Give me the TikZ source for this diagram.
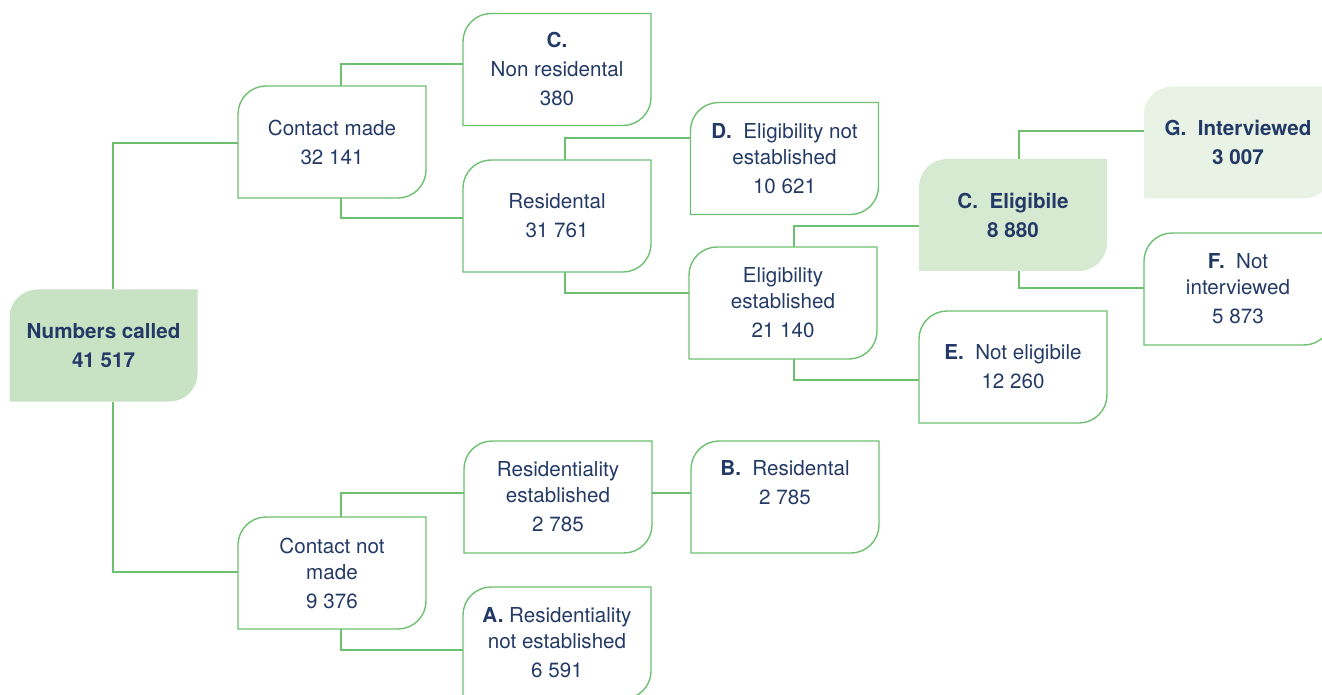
\documentclass[tikz,border=0pt]{standalone}
\usepackage{fontspec}
\setmainfont{TeX Gyre Heros}
\usetikzlibrary{backgrounds}
\definecolor{navy}{RGB}{36,58,102}
\definecolor{leafgreen}{RGB}{108,192,112}
\definecolor{fillA}{RGB}{200,226,196}
\definecolor{fillB}{RGB}{214,233,209}
\definecolor{fillC}{RGB}{232,243,230}
% box with rounded top-left and bottom-right corners, drawn round a node
\newcommand{\leafbox}[2]{\path[#2] (#1.south west) -- ([yshift=-14pt]#1.north west)
  .. controls +(0pt,7.7pt) and +(-7.7pt,0pt) .. ([xshift=14pt]#1.north west) -- (#1.north east)
  -- ([yshift=14pt]#1.south east) .. controls +(0pt,-7.7pt) and +(7.7pt,0pt) .. ([xshift=-14pt]#1.south east) -- cycle;}
\begin{document}
\begin{tikzpicture}[x=0.5pt,y=-0.5pt,
  every node/.style={font=\fontsize{10.3}{13}\selectfont, text=navy, align=center},
  leaf/.style={minimum width=94pt, minimum height=56pt, inner sep=0pt, outer sep=0pt},
  outline/.style={draw=leafgreen, line width=0.7pt},
  conn/.style={draw=leafgreen, line width=0.8pt}]
\useasboundingbox (0,0) rectangle (1322,695);
\clip (0,0) rectangle (1322,695);
\node[leaf] (nc) at (103.5,345.5) {\textbf{Numbers called}\\[1.5pt]\textbf{41 517}};
\node[leaf] (cm) at (332,142) {Contact made\\[1.5pt]32 141};
\node[leaf] (nr) at (557,69.5) {\textbf{C.}\\[1.5pt]Non residental\\[1.5pt]380};
\node[leaf] (res) at (557,216) {Residental\\[1.5pt]31 761};
\node[leaf] (dne) at (784.5,158.5) {\textbf{D.}~~Eligibility not\\established\\[1.5pt]10 621};
\node[leaf] (ee) at (783,303) {Eligibility\\established\\[1.5pt]21 140};
\node[leaf] (eli) at (1013,215) {\textbf{C.~~Eligibile}\\[1.5pt]\textbf{8 880}};
\node[leaf] (gi) at (1238,142.5) {\textbf{G.~~Interviewed}\\[1.5pt]\textbf{3 007}};
\node[leaf] (fni) at (1238,289) {\textbf{F.}~~Not\\interviewed\\[1.5pt]5 873};
\node[leaf] (ene) at (1013,367) {\textbf{E.}~~Not eligibile\\[1.5pt]12 260};
\node[leaf] (rse) at (558,497) {Residentiality\\established\\[1.5pt]2 785};
\node[leaf] (bres) at (785,497) {\textbf{B.}~~Residental\\[1.5pt]2 785\\[1.5pt]\mbox{}};
\node[leaf] (cnm) at (332,573) {Contact not\\made\\[1.5pt]9 376};
\node[leaf] (arne) at (557,643) {\textbf{A.} Residentiality\\not established\\[1.5pt]6 591};
\begin{scope}[on background layer]
\leafbox{nc}{fill=fillA}
\leafbox{eli}{fill=fillB}
\leafbox{gi}{fill=fillC}
\foreach \n in {cm,nr,res,dne,ee,fni,ene,rse,bres,cnm,arne}
  {\leafbox{\n}{outline}}
\end{scope}
\draw[conn] ([xshift=4.75pt]nc.north) |- ([yshift=-0.5pt]cm.west);
\draw[conn] ([xshift=4.75pt]nc.south) |- ([yshift=0.5pt]cnm.west);
\draw[conn] ([xshift=4.5pt]cm.north) |- ([yshift=2.75pt]nr.west);
\draw[conn] ([xshift=4.5pt]cm.south) |- ([yshift=-1pt]res.west);
\draw[conn] ([xshift=4pt]res.north) |- ([yshift=10.25pt]dne.west);
\draw[conn] ([xshift=4pt]res.south) |- ([yshift=5pt]ee.west);
\draw[conn] ([xshift=5.5pt]ee.north) |- ([yshift=-5.5pt]eli.west);
\draw[conn] ([xshift=5.5pt]ee.south) |- ([yshift=-6.5pt]ene.west);
\draw[conn] ([xshift=3pt]eli.north) |- ([yshift=5.75pt]gi.west);
\draw[conn] ([xshift=3pt]eli.south) |- ([yshift=0.5pt]fni.west);
\draw[conn] ([xshift=4.5pt]cnm.north) |- ([yshift=2pt]rse.west);
\draw[conn] ([xshift=4.5pt]cnm.south) |- ([yshift=-3.5pt]arne.west);
\draw[conn] ([yshift=2pt]rse.east) -- ([yshift=2pt]bres.west);
\end{tikzpicture}
\end{document}
